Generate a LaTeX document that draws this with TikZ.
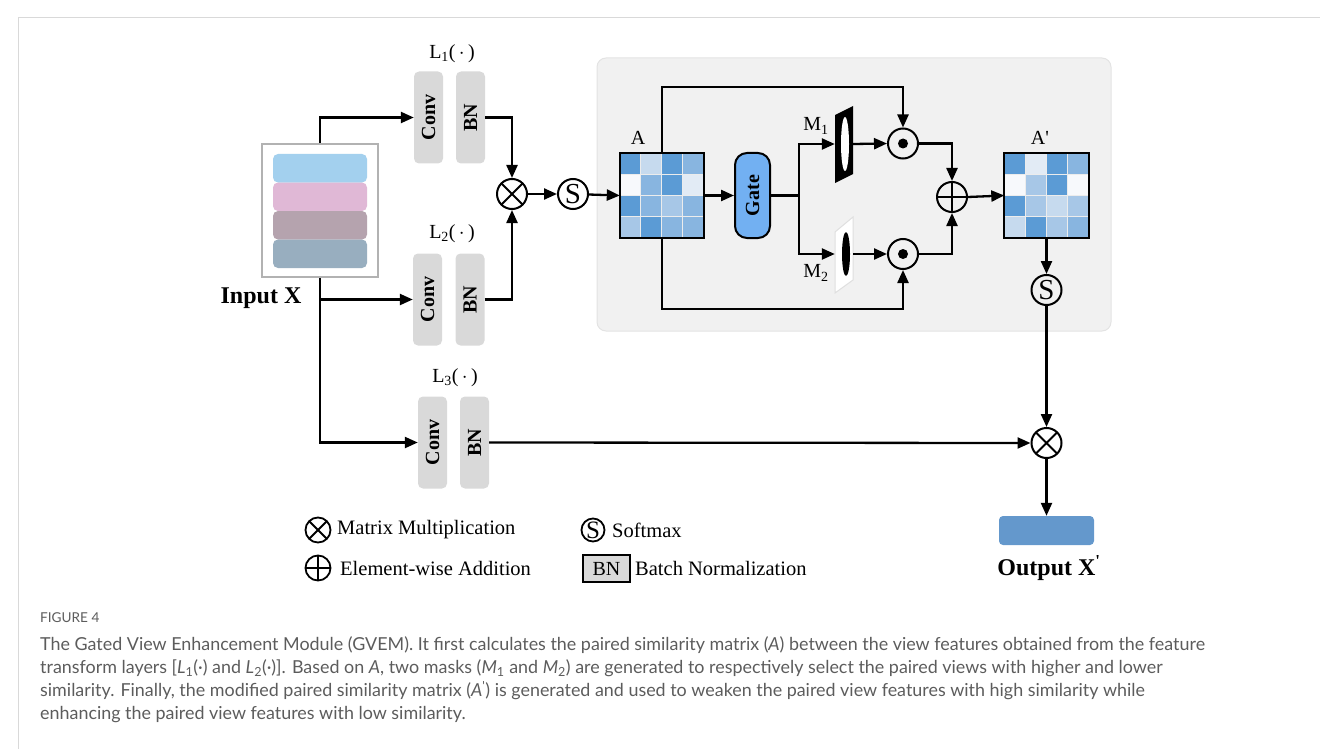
\documentclass[tikz,border=0pt]{standalone}
\usepackage{fontspec}
\setmainfont{Liberation Serif}
\newfontfamily\captionfont{Lato}
\usetikzlibrary{arrows.meta,calc}

\definecolor{layergray}{HTML}{D9D9D9}
\definecolor{panelgray}{HTML}{F1F1F1}
\definecolor{gateblue}{HTML}{72B0F2}
\definecolor{outblue}{HTML}{6498CC}
\definecolor{capgray}{HTML}{5C5C5C}
\definecolor{stripeA}{HTML}{A3D0EE}
\definecolor{stripeB}{HTML}{E0B8D6}
\definecolor{stripeC}{HTML}{B5A3AE}
\definecolor{stripeD}{HTML}{98AEBF}
% cell shades, dark to light
\definecolor{cm}{HTML}{5B9BD5}
\definecolor{cb}{HTML}{88B5E0}
\definecolor{cl}{HTML}{A7C7E7}
\definecolor{cp}{HTML}{C6DAEE}
\definecolor{ce}{HTML}{E2EBF5}
\definecolor{cw}{HTML}{F7F9FC}

\tikzset{
  wire/.style={line width=2.3pt},
  link/.style={wire, -{Triangle[length=13pt,width=11pt]}},
  layer/.style={fill=layergray, rounded corners=5pt, minimum width=29pt, minimum height=92pt,
    inner sep=0pt, font=\bfseries\fontsize{20}{20}\selectfont},
  op/.style={circle, draw, line width=2pt, minimum size=30pt, inner sep=0pt},
  mulop/.style={op, path picture={\draw[line width=2pt]
    (path picture bounding box.south west) -- (path picture bounding box.north east)
    (path picture bounding box.north west) -- (path picture bounding box.south east);}},
  addop/.style={op, path picture={\draw[line width=2pt]
    (path picture bounding box.west) -- (path picture bounding box.east)
    (path picture bounding box.north) -- (path picture bounding box.south);}},
  dotop/.style={op, path picture={\fill (path picture bounding box.center) circle (5pt);}},
  softop/.style={op, font=\fontsize{29}{29}\selectfont},
  lbl/.style={font=\fontsize{20}{20}\selectfont},
  legend/.style={anchor=west, inner sep=0pt, font=\fontsize{20.5}{20}\selectfont},
  simmat/.style={minimum size=84pt, inner sep=0pt},
}

\begin{document}
\begin{tikzpicture}[x=1pt,y=-1pt]
    \useasboundingbox (0,0) rectangle (1320,749);
    \draw[gray!30, line width=1pt] (18,749) -- (18,18) -- (1320,18);

    % gated part
    \draw[fill=panelgray, draw=gray!22, line width=1pt, rounded corners=9pt] (597,58) rectangle (1111,331);

    % input features
    \node[draw=gray!60, fill=white, line width=1.5pt, minimum width=116pt, minimum height=133pt] (inputx) at (320,210.5) {};
    \foreach \c [count=\i] in {stripeA,stripeB,stripeC,stripeD}
        \fill[\c, rounded corners=5pt] (273,{125.5+28.5*\i}) rectangle (367,{154+28.5*\i});
    \node[font=\bfseries\fontsize{24}{24}\selectfont] (inputlbl) at (261,298) {Input X};

    % feature transform layers
    \node[layer] (conva) at (428.5,117.5) {\rotatebox{90}{Conv}};
    \node[layer] (bna) at (470.5,117.5) {\rotatebox{90}{BN}};
    \node[layer] (convb) at (427.5,299.5) {\rotatebox{90}{Conv}};
    \node[layer] (bnb) at (470,299.5) {\rotatebox{90}{BN}};
    \node[layer] (convc) at (432.5,442.5) {\rotatebox{90}{Conv}};
    \node[layer] (bnc) at (474.5,442.5) {\rotatebox{90}{BN}};
    \node[lbl] (la) at (452,54) {L\textsubscript{1}(\,$\cdot$\,)};
    \node[lbl] (lb) at (452,234) {L\textsubscript{2}(\,$\cdot$\,)};
    \node[lbl] (lc) at (455,378) {L\textsubscript{3}(\,$\cdot$\,)};

    \node[mulop] (mula) at (512,194) {};
    \node[softop] (softa) at (573,194) {S};

    % similarity matrices
    \node[simmat] (mata) at (662,195.5) {};
    \foreach \row [count=\j from 0] in {{cm,cp,cm,cb},{cw,cb,cm,ce},{cm,cb,cl,cb},{cl,cm,cb,cb}}
        \foreach \col [count=\i from 0] in \row
            \filldraw[fill=\col, draw=white!85!gray, line width=0.8pt] ($(mata.north west)+(21*\i,21*\j)$) rectangle ++(21,21);
    \draw[line width=2.3pt] (mata.north west) rectangle (mata.south east);
    \node[lbl] (matalbl) at (638,138) {A};

    \node[simmat] (matb) at (1046.5,195.5) {};
    \foreach \row [count=\j from 0] in {{cm,ce,cm,cb},{cw,cl,cm,cw},{cm,cl,cp,cl},{cp,cm,cl,cb}}
        \foreach \col [count=\i from 0] in \row
            \filldraw[fill=\col, draw=white!85!gray, line width=0.8pt] ($(matb.north west)+(21*\i,21*\j)$) rectangle ++(21,21);
    \draw[line width=2.3pt] (matb.north west) rectangle (matb.south east);
    \node[lbl] (matblbl) at (1040,138) {A\textquotesingle};

    \node[draw, fill=gateblue, line width=2pt, rounded corners=12pt, minimum width=35pt, minimum height=85pt,
          inner sep=0pt, font=\bfseries\fontsize{20}{20}\selectfont] (gate) at (752.5,195.5) {\rotatebox{90}{Gate}};

    % masks
    \node[minimum width=18pt, minimum height=76pt, inner sep=0pt] (maska) at (844,144) {};
    \fill (835,115) -- (853,106) -- (853,174) -- (835,183) -- cycle;
    \fill[white] (845,144) ellipse (4pt and 27pt);
    \node[minimum width=18pt, minimum height=76pt, inner sep=0pt] (maskb) at (844,254) {};
    \filldraw[fill=white, draw=gray!25, line width=1pt] (835,232) -- (853,217) -- (853,280) -- (835,293) -- cycle;
    \fill (846,254) ellipse (4pt and 22pt);
    \node[lbl] (mlbla) at (816,126) {M\textsubscript{1}};
    \node[lbl] (mlblb) at (816,273) {M\textsubscript{2}};

    \node[dotop] (dota) at (903,143.5) {};
    \node[dotop] (dotb) at (903,254) {};
    \node[addop] (sum) at (952,197) {};
    \node[softop] (softb) at (1046.5,290) {S};
    \node[mulop] (mulb) at (1046.5,443) {};

    \node[fill=outblue, rounded corners=4pt, minimum width=95pt, minimum height=29pt] (output) at (1046.5,530.5) {};
    \node[font=\bfseries\fontsize{24}{24}\selectfont] (outlbl) at (1049,568) {Output X\textsuperscript{\textquotesingle}};

    % connectors
    \draw[link] (inputx.north) |- (conva.west);
    \draw[link] (inputx.south) |- (convc.west);
    \draw[link] (inputx.south |- convb.west) -- (convb.west);
    \draw[link] (bna.east) -| (mula.north);
    \draw[link] (bnb.east) -| (mula.south);
    \draw[link] (mula) -- (softa);
    \draw[link] (softa) -- (mata.west);
    \draw[link] (mata.north) -- ++(0,-66) -| (dota.north);
    \draw[link] (mata.south) -- ++(0,71) -| (dotb.south);
    \draw[link] (mata.east) -- (gate.west);
    \draw[wire] (gate.east) -- ++(28,0) coordinate (split);
    \draw[link] (split) |- (maska.west);
    \draw[link] (split) |- (maskb.west);
    \draw[link] (maska.east) -- (dota.west);
    \draw[link] (maskb.east) -- (dotb.west);
    \draw[link] (dota.east) -| (sum.north);
    \draw[link] (dotb.east) -| (sum.south);
    \draw[link] (sum.east) -- (matb.west);
    \draw[link] (matb.south) -- (softb.north);
    \draw[link] (softb.south) -- (mulb.north);
    \draw[link] (bnc.east) -- (mulb.west);
    \draw[link] (mulb.south) -- (output.north);

    % legend
    \node[mulop, minimum size=25pt, line width=1.8pt] (legmul) at (318,530) {};
    \node[legend] (legmultxt) at (337,530) {Matrix Multiplication};
    \node[addop, minimum size=25pt, line width=1.8pt] (legadd) at (318,568) {};
    \node[legend] (legaddtxt) at (340,568) {Element-wise Addition};
    \node[op, minimum size=23pt, line width=1.8pt, font=\fontsize{25}{25}\selectfont] (legsoft) at (593,530) {S};
    \node[legend] (legsofttxt) at (612,530) {Softmax};
    \node[draw, fill=layergray, line width=1.2pt, minimum width=47pt, minimum height=27pt, inner sep=0pt,
          font=\fontsize{20}{20}\selectfont] (legbn) at (606.5,568.5) {BN};
    \node[legend] (legbntxt) at (635,568) {Batch Normalization};

    % caption
    \node[anchor=west, inner sep=0pt, text=capgray, font=\captionfont\fontsize{13.6}{13.6}\selectfont] (capfig) at (40,618) {FIGURE 4};
    \node[anchor=north west, align=left, inner sep=0pt, text=capgray, font=\captionfont\fontsize{17.9}{23.3}\selectfont] (captxt) at (40,636)
        {The Gated View Enhancement Module (GVEM). It first calculates the paired similarity matrix (\textit{A}) between the view features obtained from the feature\\
         transform layers [\textit{L}\textsubscript{1}(·) and \textit{L}\textsubscript{2}(·)]. Based on \textit{A}, two masks (\textit{M}\textsubscript{1} and \textit{M}\textsubscript{2}) are generated to respectively select the paired views with higher and lower\\
         similarity. Finally, the modified paired similarity matrix (\textit{A}\textsuperscript{\textquotesingle}) is generated and used to weaken the paired view features with high similarity while\\
         enhancing the paired view features with low similarity.};
\end{tikzpicture}
\end{document}
